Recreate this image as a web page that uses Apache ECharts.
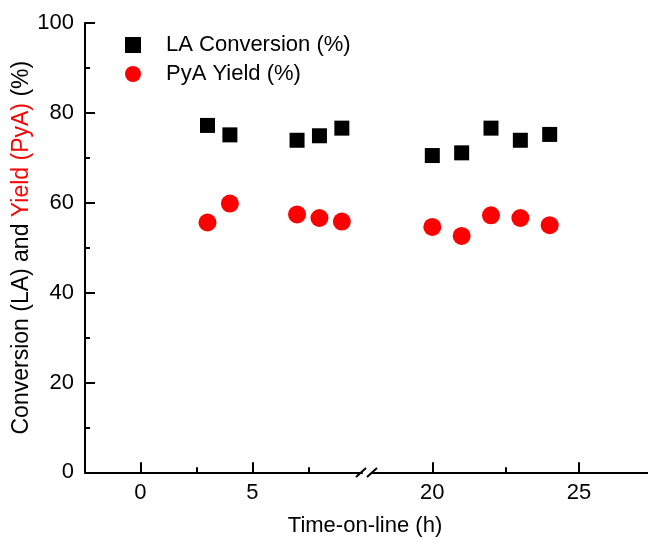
<!DOCTYPE html>
<html>
<head>
<meta charset="utf-8">
<script src="https://cdn.jsdelivr.net/npm/echarts@6/dist/echarts.min.js"></script>
<style>
html,body{margin:0;padding:0;background:#fff;}
#chart{width:648px;height:539px;}
</style>
</head>
<body>
<div id="chart"></div>
<script>
// ---- data ----
const timeLeft = [3, 4, 7, 8, 9];
const convLeft = [77.2, 75.1, 73.9, 74.9, 76.6];
const yieldLeft = [55.6, 59.8, 57.4, 56.6, 55.8];

const timeRight = [20, 21, 22, 23, 24];
const convRight = [70.5, 71.1, 76.6, 73.9, 75.2];
const yieldRight = [54.6, 52.6, 57.2, 56.6, 55.0];

const xMajorLeft = [0, 5];
const xMinorLeft = [2.5, 7.5];
const xMajorRight = [20, 25];
const xMinorRight = [22.5];

const seriesNames = ['LA Conversion (%)', 'PyA Yield (%)'];
const xTitle = 'Time-on-line (h)';

// ---- layout ----
const FONT = '"Liberation Sans", Arial, sans-serif';
const leftRange = [-2.47, 9.9];
const rightRange = [17.945, 27.35];

function pairs(xs, ys) { return xs.map((x, i) => [x, ys[i]]); }

function majorAxis(gridIndex, range, vals) {
  return {
    type: 'value', gridIndex, position: 'bottom', offset: 0,
    min: range[0], max: range[1],
    axisLine: { show: true, onZero: false, lineStyle: { color: '#000', width: 2 } },
    axisTick: { show: true, inside: true, length: 10, lineStyle: { color: '#000', width: 2 }, customValues: vals },
    axisLabel: { show: true, customValues: vals, color: '#000', fontSize: 22, fontFamily: FONT, margin: 10 },
    splitLine: { show: false }
  };
}
function minorAxis(gridIndex, range, vals) {
  return {
    type: 'value', gridIndex, position: 'bottom', offset: 0,
    min: range[0], max: range[1],
    axisLine: { show: false, onZero: false },
    axisTick: { show: true, inside: true, length: 5, lineStyle: { color: '#000', width: 2 }, customValues: vals },
    axisLabel: { show: false },
    splitLine: { show: false }
  };
}

const chart = echarts.init(document.getElementById('chart'), null, { renderer: 'canvas' });
const option = {
  animation: false,
  backgroundColor: '#fff',
  title: {
    text: xTitle, left: 360, top: 510, textAlign: 'center',
    textStyle: { color: '#000', fontSize: 22, fontWeight: 'normal', fontFamily: FONT }
  },
  legend: {
    orient: 'vertical', left: 120, top: 29,
    itemWidth: 16, itemHeight: 16, itemGap: 7,
    data: seriesNames,
    textStyle: { color: '#000', fontSize: 22, fontFamily: FONT, lineHeight: 22, padding: [0, 0, 0, 20] }
  },
  grid: [
    { left: 85, right: 648 - 362, top: 23, bottom: 66.7, containLabel: false },
    { left: 372, right: 0, top: 23, bottom: 66.7, containLabel: false }
  ],
  xAxis: [
    majorAxis(0, leftRange, xMajorLeft),
    minorAxis(0, leftRange, xMinorLeft),
    majorAxis(1, rightRange, xMajorRight),
    minorAxis(1, rightRange, xMinorRight)
  ],
  yAxis: [
    {
      type: 'value', gridIndex: 0, min: 0, max: 100, interval: 20, position: 'left',
      axisLine: { show: true, onZero: false, lineStyle: { color: '#000', width: 2 } },
      axisTick: { show: true, inside: true, length: 10, lineStyle: { color: '#000', width: 2 } },
      minorTick: { show: true, splitNumber: 2, length: 5, lineStyle: { color: '#000', width: 2 } },
      axisLabel: { color: '#000', fontSize: 22, fontFamily: FONT, margin: 11 },
      splitLine: { show: false }, minorSplitLine: { show: false },
      name: '{a|Conversion (LA) and }{b|Yield (PyA)}{a| (%)}',
      nameLocation: 'middle', nameGap: 49, nameRotate: 90,
      nameTextStyle: {
        fontFamily: FONT, fontSize: 23,
        rich: {
          a: { color: '#000', fontSize: 23, fontFamily: FONT },
          b: { color: '#ff0000', fontSize: 23, fontFamily: FONT }
        }
      }
    },
    {
      type: 'value', gridIndex: 1, min: 0, max: 100, interval: 20, show: false,
      axisLine: { onZero: false }
    }
  ],
  series: [
    { name: seriesNames[0], type: 'scatter', xAxisIndex: 0, yAxisIndex: 0, symbol: 'rect', symbolSize: 15,
      itemStyle: { color: '#000', opacity: 1 }, data: pairs(timeLeft, convLeft) },
    { name: seriesNames[1], type: 'scatter', xAxisIndex: 0, yAxisIndex: 0, symbol: 'circle', symbolSize: 18,
      itemStyle: { color: '#ff0000', opacity: 1 }, data: pairs(timeLeft, yieldLeft) },
    { name: seriesNames[0], type: 'scatter', xAxisIndex: 2, yAxisIndex: 1, symbol: 'rect', symbolSize: 15,
      itemStyle: { color: '#000', opacity: 1 }, data: pairs(timeRight, convRight) },
    { name: seriesNames[1], type: 'scatter', xAxisIndex: 2, yAxisIndex: 1, symbol: 'circle', symbolSize: 18,
      itemStyle: { color: '#ff0000', opacity: 1 }, data: pairs(timeRight, yieldRight) }
  ],
  graphic: [
    { type: 'line', shape: { x1: 356, y1: 477, x2: 366, y2: 468 }, style: { stroke: '#000', lineWidth: 2 } },
    { type: 'line', shape: { x1: 367, y1: 477, x2: 377, y2: 468 }, style: { stroke: '#000', lineWidth: 2 } }
  ]
};
chart.setOption(option);
</script>
</body>
</html>
